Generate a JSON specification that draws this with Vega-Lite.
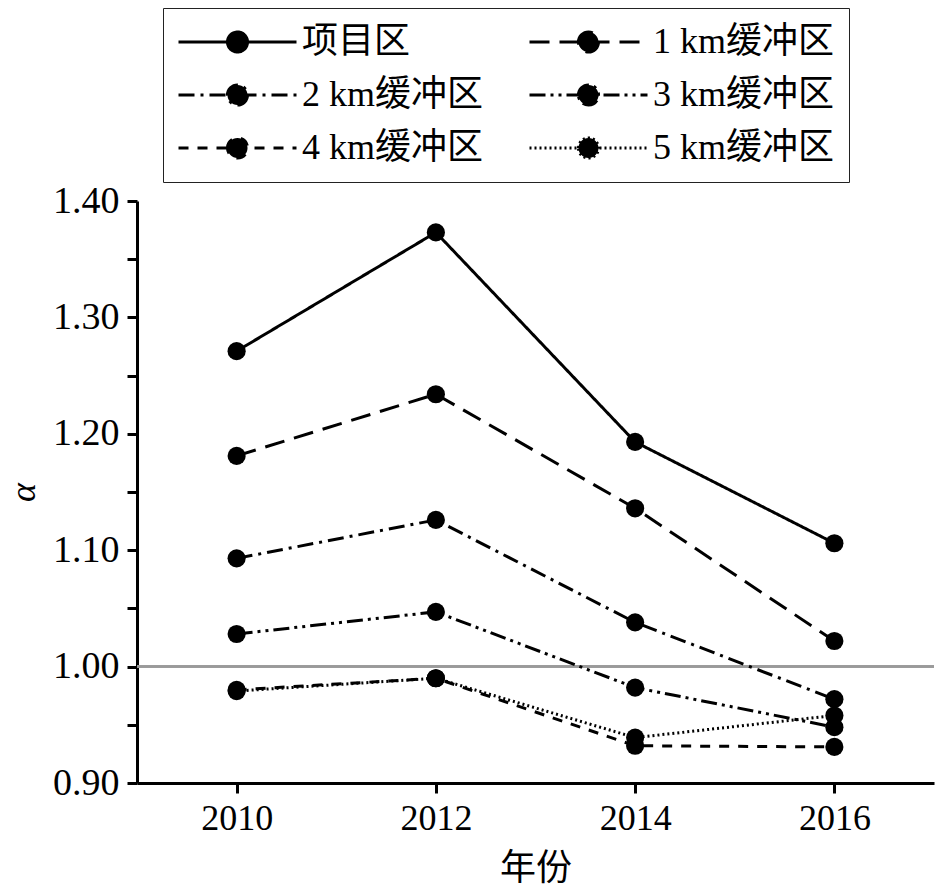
{
  "$schema": "https://vega.github.io/schema/vega-lite/v6.json",
  "width": 797,
  "height": 582,
  "autosize": {"type": "none"},
  "padding": {"left": 137, "top": 201, "right": 9, "bottom": 111},
  "background": "white",
  "config": {"view": {"stroke": null}, "font": "Liberation Serif"},
  "data": {
    "values": [
      {"series": "项目区", "year": 2010, "alpha": 1.271},
      {"series": "项目区", "year": 2012, "alpha": 1.373},
      {"series": "项目区", "year": 2014, "alpha": 1.193},
      {"series": "项目区", "year": 2016, "alpha": 1.106},
      {"series": "1 km缓冲区", "year": 2010, "alpha": 1.181},
      {"series": "1 km缓冲区", "year": 2012, "alpha": 1.234},
      {"series": "1 km缓冲区", "year": 2014, "alpha": 1.136},
      {"series": "1 km缓冲区", "year": 2016, "alpha": 1.022},
      {"series": "2 km缓冲区", "year": 2010, "alpha": 1.093},
      {"series": "2 km缓冲区", "year": 2012, "alpha": 1.126},
      {"series": "2 km缓冲区", "year": 2014, "alpha": 1.038},
      {"series": "2 km缓冲区", "year": 2016, "alpha": 0.972},
      {"series": "3 km缓冲区", "year": 2010, "alpha": 1.028},
      {"series": "3 km缓冲区", "year": 2012, "alpha": 1.047},
      {"series": "3 km缓冲区", "year": 2014, "alpha": 0.982},
      {"series": "3 km缓冲区", "year": 2016, "alpha": 0.948},
      {"series": "4 km缓冲区", "year": 2010, "alpha": 0.980},
      {"series": "4 km缓冲区", "year": 2012, "alpha": 0.990},
      {"series": "4 km缓冲区", "year": 2014, "alpha": 0.932},
      {"series": "4 km缓冲区", "year": 2016, "alpha": 0.931},
      {"series": "5 km缓冲区", "year": 2010, "alpha": 0.979},
      {"series": "5 km缓冲区", "year": 2012, "alpha": 0.990},
      {"series": "5 km缓冲区", "year": 2014, "alpha": 0.939},
      {"series": "5 km缓冲区", "year": 2016, "alpha": 0.958}
    ]
  },
  "layer": [
    {
      "mark": {"type": "rule", "color": "#9a9a9a", "strokeWidth": 1.5},
      "encoding": {"y": {"datum": 1.0, "type": "quantitative"}}
    },
    {
      "mark": {
        "type": "line",
        "color": "black",
        "strokeWidth": 3,
        "point": {"filled": true, "size": 330, "color": "black", "opacity": 1}
      },
      "encoding": {
        "x": {
          "field": "year",
          "type": "quantitative",
          "scale": {"domain": [2009, 2017], "nice": false, "zero": false},
          "axis": {
            "values": [2010, 2012, 2014, 2016],
            "format": "d",
            "title": "年份",
            "titleFont": "Noto Sans CJK SC",
            "titleFontSize": 36,
            "titleFontWeight": "normal",
            "titleColor": "black",
            "titlePadding": 15,
            "labelFont": "Liberation Serif",
            "labelFontSize": 36,
            "labelColor": "black",
            "labelPadding": 8,
            "labelFlush": false,
            "labelOverlap": false,
            "tickSize": 10,
            "tickWidth": 3,
            "tickColor": "black",
            "domainColor": "black",
            "domainWidth": 3,
            "grid": false
          }
        },
        "y": {
          "field": "alpha",
          "type": "quantitative",
          "scale": {"domain": [0.9, 1.4], "nice": false, "zero": false},
          "axis": {
            "values": [0.9, 0.95, 1.0, 1.05, 1.1, 1.15, 1.2, 1.25, 1.3, 1.35, 1.4],
            "labelExpr": "round(datum.value*100) % 10 == 0 ? format(datum.value, '.2f') : ''",
            "title": "α",
            "titleFont": "Liberation Serif",
            "titleFontStyle": "italic",
            "titleFontWeight": "normal",
            "titleFontSize": 36,
            "titleColor": "black",
            "titlePadding": 10,
            "labelFont": "Liberation Serif",
            "labelFontSize": 38,
            "labelColor": "black",
            "labelPadding": 8,
            "labelFlush": false,
            "labelOverlap": false,
            "tickSize": 10,
            "tickWidth": 3,
            "tickColor": "black",
            "domainColor": "black",
            "domainWidth": 3,
            "grid": false
          }
        },
        "strokeDash": {
          "field": "series",
          "type": "nominal",
          "scale": {
            "domain": ["项目区", "1 km缓冲区", "2 km缓冲区", "3 km缓冲区", "4 km缓冲区", "5 km缓冲区"],
            "range": [[1, 0], [20, 10], [16, 6, 3, 6], [16, 5, 3, 5, 3, 5], [10, 9], [2, 3]]
          },
          "legend": {
            "title": null,
            "orient": "none",
            "legendX": 26,
            "legendY": -193,
            "columns": 2,
            "direction": "horizontal",
            "symbolType": "M-1,0H1M-0.17,0A0.17,0.17,0,1,1,0.17,0A0.17,0.17,0,1,1,-0.17,0Z",
            "symbolSize": 13924,
            "symbolStrokeWidth": 3,
            "symbolStrokeColor": "black",
            "symbolFillColor": "black",
            "symbolOpacity": 1,
            "labelFont": "Liberation Serif, Noto Sans CJK SC",
            "labelFontSize": 36,
            "labelColor": "black",
            "labelOffset": 4,
            "labelLimit": 400,
            "clipHeight": 40,
            "rowPadding": 13,
            "columnPadding": 44,
            "gridAlign": "all",
            "strokeColor": "#222222",
            "padding": 14,
            "encode": {
              "symbols": {"update": {"fill": {"value": "black"}, "stroke": {"value": "black"}, "opacity": {"value": 1}}}
            }
          }
        }
      }
    }
  ]
}
